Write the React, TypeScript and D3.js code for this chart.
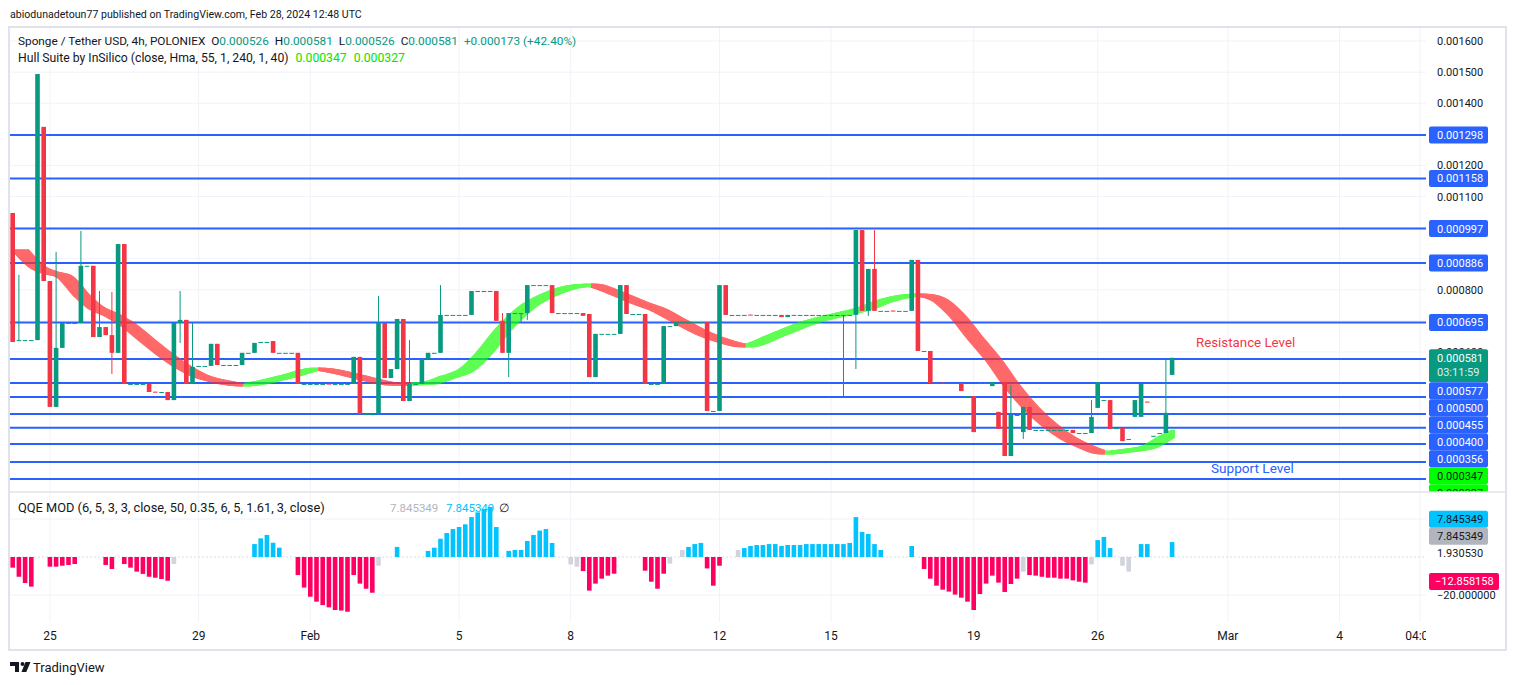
import React from 'react';
import * as d3 from 'd3';

const FONT = "Roboto, 'Noto Sans', sans-serif";

// 4h candles, prices in millionths of USDT (581 -> 0.000581): [open, high, low, close]
const ohlc: number[][] = [
  [1047,1047,632,632],[638,848,638,638],[638,638,638,638],[638,638,638,638],[638,1494,638,1494],
  [1324,1324,828,828],[828,828,423,423],[423,922,423,613],[613,693,613,693],[693,693,693,693],
  [693,693,693,693],[693,989,693,877],[877,877,877,877],[877,877,648,648],[648,796,648,680],
  [680,680,654,654],[654,793,529,597],[597,947,597,947],[947,947,497,497],[497,497,497,497],
  [497,497,497,497],[497,497,497,497],[497,497,471,471],[472,472,471,471],[471,471,471,471],
  [471,471,445,445],[445,693,445,693],[693,796,629,703],[703,703,497,497],[497,693,497,552],
  [555,555,555,555],[555,555,555,555],[555,626,555,626],[626,626,558,558],[558,558,558,558],
  [558,558,558,558],[558,558,558,558],[558,597,558,597],[597,597,597,597],[597,629,597,629],
  [629,632,629,632],[632,632,632,632],[635,635,597,597],[597,597,597,597],[597,597,597,597],
  [597,597,597,597],[597,597,497,497],[497,497,497,497],[497,497,497,497],[497,497,497,497],
  [497,497,497,497],[498,498,497,497],[497,497,497,497],[497,497,497,497],[497,497,497,497],
  [497,584,497,584],[584,584,400,400],[400,400,400,400],[400,400,400,400],[400,780,400,693],
  [693,693,516,516],[516,545,516,545],[545,706,545,706],[706,706,442,442],[442,638,442,497],
  [497,497,497,497],[497,577,497,577],[577,597,577,597],[597,597,597,597],[597,815,597,719],
  [719,719,719,719],[719,719,719,719],[719,719,719,719],[719,719,719,719],[719,796,719,796],
  [796,796,796,796],[796,796,796,796],[796,796,796,796],[796,796,700,700],[700,725,597,597],
  [597,725,519,725],[725,725,725,725],[725,725,696,725],[725,815,703,815],[815,815,815,815],
  [815,815,815,815],[815,815,815,815],[815,815,725,725],[725,725,725,725],[725,725,725,725],
  [725,725,725,725],[725,725,725,725],[725,725,716,716],[722,722,519,519],[519,658,519,658],
  [658,658,658,658],[658,658,658,658],[658,658,658,658],[658,815,658,815],[815,815,722,722],
  [722,722,722,722],[722,722,722,722],[722,722,497,497],[497,497,497,497],[497,497,497,497],
  [497,683,497,683],[683,683,683,683],[683,696,683,696],[696,696,696,696],[696,696,696,696],
  [696,696,696,696],[696,696,696,696],[696,696,410,410],[410,410,410,410],[410,815,410,815],
  [815,815,719,719],[719,719,719,719],[719,719,719,719],[719,719,719,719],[720,720,719,719],
  [719,719,719,719],[719,719,719,719],[719,719,719,719],[719,719,719,719],[719,719,712,712],
  [712,719,712,719],[719,719,719,719],[719,719,719,719],[719,719,719,719],[719,719,719,719],
  [719,719,719,719],[719,719,719,719],[719,719,719,719],[719,719,719,719],[719,719,455,719],
  [719,719,719,719],[719,992,545,992],[992,992,732,732],[732,867,716,867],[867,992,732,732],
  [732,732,732,732],[732,732,732,732],[733,733,732,732],[732,732,732,732],[732,732,732,732],
  [732,896,732,896],[896,896,603,603],[603,603,603,603],[603,603,500,500],[500,500,500,500],
  [501,501,500,500],[500,500,500,500],[500,500,500,500],[500,500,474,474],[458,458,458,458],
  [458,458,342,342],[500,500,500,500],[500,500,500,500],[490,503,490,503],[407,407,352,352],
  [503,503,265,265],[265,494,265,397],[397,397,397,397],[342,423,320,423],[423,423,349,349],
  [349,349,349,349],[349,349,349,349],[349,349,349,349],[349,349,349,349],[349,349,349,349],
  [349,349,349,349],[349,349,339,339],[339,339,339,339],[339,339,339,339],[339,445,339,391],
  [420,503,420,503],[445,445,445,445],[445,445,352,352],[355,355,355,355],[355,355,313,313],
  [320,320,320,320],[391,445,391,445],[391,497,391,497],[440,440,439,439],[330,330,330,330],
  [339,339,339,339],[339,574,339,404],[526,581,526,581],
];

// Hull Suite (HMA 55), read at selected bars, same units
const hullBars = [0,3,5,7,10,12,15,17,20,23,26,29,32,36,40,44,48,52,56,60,63,66,69,72,75,78,82,86,89,92,96,100,103,106,110,114,117,122,127,132,136,140,143,145,148,151,154,157,160,163,166,169,172,175,178,182,185,187];
const hullValues = [928,870,854,844,780,745,716,693,645,597,555,523,506,494,506,526,545,532,513,497,497,500,519,542,600,674,748,790,809,815,790,757,735,703,661,632,619,654,693,719,738,767,780,783,770,719,645,574,490,420,365,323,294,275,281,294,327,347];

// QQE MOD histogram, one value per candle (0 = no bar)
const qqeValues = [
  -5.6,-10.4,-13.7,-15.6,0,0,-5.1,-5.1,-4.6,-4.2,
  -3.7,0,0,0,0,-4.2,-6.3,0,-3.7,-5.6,
  -7.7,-8.9,-10.4,-10.9,-11.6,-12.5,-3.7,0,0,0,
  0,0,0,0,0,0,0,0,0,6.8,
  9.8,11.6,7.5,4.9,0,0,-9.5,-16.1,-20.9,-23.5,
  -25.3,-26.5,-27.9,-28.2,-28.8,-9.5,-14,-16.7,-18.8,-4.6,
  0,0,5.3,0,0,0,0,3.2,4.9,9.6,
  12.6,14.7,15.8,17.2,21,23.5,25.3,26.3,15.8,0,
  3.2,3.7,3.7,8.4,11.6,13.9,14.7,7.4,0,0,
  -3.9,-5.1,-7.4,-17.7,-14,-11.4,-9.8,-8.8,0,0,
  0,0,-7.2,-13,-16.7,-8.8,-3.5,0,3.7,5.3,
  6.8,7.4,-6,-15.1,-4.6,0,0,3.7,4.7,5.8,
  6.3,6.3,6.8,6.8,5.8,6.3,6.3,6.3,6.8,6.8,
  6.8,6.8,6.8,6.8,6.8,7.4,21,13.2,12.1,6.8,
  3.7,0,0,0,0,5.8,0,-6.3,-11.4,-15.1,
  -17.2,-18.2,-19.8,-21.4,-23.5,-27.9,-19.5,-14,-9.8,-13.5,
  -18.4,-14.2,-11.4,-7.7,-9.5,-9.8,-10.4,-10.9,-10.9,-11.4,
  -11.4,-12.3,-13,-13.5,-3.9,8.9,10.5,4.7,0,-4.6,
  -7.7,0,6.8,6.8,0,0,0,7.845349,
];
// bars drawn grey (neither threshold crossed)
const qqeNeutral = [26,59,90,91,106,108,117,163,174,179,180];

// drawn horizontal levels
const levelPrices = [1298,1158,997,886,695,577,500,455,400,356,304,246,191];
const priceTicks = [600,700,800,900,1000,1100,1200,1300,1400,1500,1600];

const dateLabels = ['25','29','Feb','5','8','12','15','19','26','Mar','4','04:00'];
const dateBars = [6,30,48,72,90,114,132,155,175,196,214,227];

const GREEN = '#089981';
const RED = '#f23645';
const BLUE = '#2962ff';
const GRID = '#f0f3fa';
const TEXT = '#131722';

const fmt = (v: number) => (v / 1e6).toFixed(6);

export default function App() {
  const left = 10, right = 1426;
  const priceTop = 28, priceBottom = 492, qqeBottom = 622;

  const x = d3.scaleLinear().domain([0, 228]).range([12.7, 12.7 + 6.2 * 228]);
  const y = d3.scaleLinear().domain([0, 1600]).range([538.4, 41.1]);
  const yq = d3.scaleLinear().domain([-20, 20]).range([595, 519]);
  const bw = 4.6;

  // Hull band: HMA and its lagged copy, filled between
  const shift = x(2.5) - x(0);
  const hullPath = d3.line<number>()
    .x((_, k) => x(hullBars[k]))
    .y(d => y(d))
    .curve(d3.curveMonotoneX)(hullValues) || '';
  const offsets = d3.range(0, shift + 0.01, 1);
  const zones: { x0: number; x1: number; up: boolean }[] = [];
  for (let k = 0; k < hullValues.length - 1; k++) {
    const up = hullValues[k + 1] > hullValues[k];
    const x0 = k === 0 ? x(0) - 4 : x(hullBars[k]) + shift / 2;
    const x1 = k === hullValues.length - 2 ? x(187) + 3 : x(hullBars[k + 1]) + shift / 2;
    const last = zones[zones.length - 1];
    if (last && last.up === up) last.x1 = x1;
    else zones.push({ x0, x1, up });
  }

  // right-hand price labels, pushed down so they do not overlap
  type Lab = { v: number; text: string[]; fill: string; color: string; h: number };
  const labs: Lab[] = [
    ...levelPrices.map(v => ({ v, text: [fmt(v)], fill: BLUE, color: '#fff', h: 17 })),
    { v: 581, text: ['0.000581', '03:11:59'], fill: GREEN, color: '#fff', h: 33 },
    { v: 347, text: ['0.000347'], fill: '#00ff00', color: TEXT, h: 17 },
    { v: 327, text: ['0.000327'], fill: '#00ff00', color: TEXT, h: 17 },
  ].sort((a, b) => y(a.v) - y(b.v) || b.h - a.h);
  let prevBottom = -Infinity;
  const placed = labs.map(l => {
    const top = Math.max(y(l.v) - 8.5, prevBottom);
    prevBottom = top + l.h;
    return { ...l, top };
  });

  // QQE labels
  const qCenter = yq(1.93053);
  const qGray = Math.min(yq(7.845349), qCenter - 17);
  const qCyan = Math.min(yq(7.845349), qGray - 17);

  return (
    <svg width={1515} height={685} style={{ position: 'absolute', left: 0, top: 0, background: '#fff' }}
      fontFamily={FONT}>
      <defs>
        <clipPath id="plot"><rect x={left} y={priceTop} width={right - left} height={priceBottom - priceTop} /></clipPath>
        <clipPath id="axis"><rect x={right} y={priceTop} width={90} height={priceBottom - priceTop} /></clipPath>
        <clipPath id="dates"><rect x={left} y={620} width={right - left} height={30} /></clipPath>
        <clipPath id="hull-up">
          {zones.filter(z => z.up).map((z, i) => <rect key={i} x={z.x0} y={priceTop} width={z.x1 - z.x0} height={priceBottom - priceTop} />)}
        </clipPath>
        <clipPath id="hull-dn">
          {zones.filter(z => !z.up).map((z, i) => <rect key={i} x={z.x0} y={priceTop} width={z.x1 - z.x0} height={priceBottom - priceTop} />)}
        </clipPath>
      </defs>

      <text x={10} y={18} fontSize={10.6} fill={TEXT}>abiodunadetoun77 published on TradingView.com, Feb 28, 2024 12:48 UTC</text>

      {/* grid */}
      {priceTicks.map(v => (
        <line key={v} x1={left} x2={right} y1={y(v)} y2={y(v)} stroke={GRID} />
      ))}
      {dateBars.map(b => (
        <line key={b} x1={x(b)} x2={x(b)} y1={priceTop} y2={qqeBottom} stroke={GRID} />
      ))}
      {[20, -20].map(v => <line key={v} x1={left} x2={right} y1={yq(v)} y2={yq(v)} stroke={GRID} />)}
      <line x1={left} x2={right} y1={yq(0)} y2={yq(0)} stroke="#d1d4dc" strokeDasharray="2,2" strokeWidth={0.8} />

      {/* levels */}
      <g clipPath="url(#plot)">
        {levelPrices.map(v => (
          <line key={v} x1={left} x2={right} y1={y(v)} y2={y(v)} stroke={BLUE} strokeWidth={2} />
        ))}
      </g>

      {/* hull band */}
      <g clipPath="url(#hull-dn)">
        <g opacity={0.72}>
          {offsets.map(o => <path key={o} d={hullPath} transform={`translate(${o},0)`} fill="none" stroke="#ff3030" strokeWidth={2.6} />)}
        </g>
      </g>
      <g clipPath="url(#hull-up)">
        <g opacity={0.68}>
          {offsets.map(o => <path key={o} d={hullPath} transform={`translate(${o},0)`} fill="none" stroke="#14ff00" strokeWidth={2.6} />)}
        </g>
      </g>

      {/* candles */}
      <g clipPath="url(#plot)">
        {ohlc.map(([o, h, l, c], i) => {
          const col = c >= o ? GREEN : RED;
          const top = y(Math.max(o, c));
          const ht = Math.max(1, Math.abs(y(o) - y(c)));
          return (
            <g key={i}>
              {h !== l && <line x1={x(i)} x2={x(i)} y1={y(h)} y2={y(l)} stroke={col} strokeWidth={1} />}
              <rect x={x(i) - bw / 2} y={top} width={bw} height={ht} fill={col} />
            </g>
          );
        })}
      </g>

      <text x={1196} y={347} fontSize={13.3} fill={RED}>Resistance Level</text>
      <text x={1211} y={473} fontSize={13.6} fill={BLUE}>Support Level</text>

      {/* legend */}
      <text x={18} y={45} fontSize={11.8} fill={TEXT}>
        Sponge / Tether USD, 4h, POLONIEX
        <tspan dx={6}>O</tspan><tspan fill={GREEN}>{fmt(ohlc[187][0])}</tspan>
        <tspan dx={6}>H</tspan><tspan fill={GREEN}>{fmt(ohlc[187][1])}</tspan>
        <tspan dx={6}>L</tspan><tspan fill={GREEN}>{fmt(ohlc[187][2])}</tspan>
        <tspan dx={6}>C</tspan><tspan fill={GREEN}>{fmt(ohlc[187][3])}</tspan>
        <tspan dx={6} fill={GREEN}>+0.000173 (+42.40%)</tspan>
      </text>
      <text x={18} y={62} fontSize={12.2} fill={TEXT}>
        Hull Suite by InSilico (close, Hma, 55, 1, 240, 1, 40)
        <tspan dx={7} fill="#00e600">0.000347</tspan>
        <tspan dx={7} fill="#00e600">0.000327</tspan>
      </text>

      {/* price axis */}
      {priceTicks.map(v => (
        <text key={v} x={1437} y={y(v) + 4} fontSize={11} fill={TEXT}>{fmt(v)}</text>
      ))}
      <g clipPath="url(#axis)">
        {placed.map((l, i) => (
          <g key={i}>
            <rect x={1429} y={l.top} width={59} height={l.h} rx={2} fill={l.fill} />
            {l.text.map((t, j) => (
              <text key={j} x={1437} y={l.top + 12.5 + j * 14} fontSize={11} fill={l.color} opacity={j ? 0.85 : 1}>{t}</text>
            ))}
          </g>
        ))}
      </g>
      <line x1={left} x2={1506} y1={priceBottom} y2={priceBottom} stroke="#e0e3eb" strokeWidth={1.5} />

      {/* QQE pane */}
      {qqeValues.map((v, i) => {
        if (v === 0) return null;
        const col = qqeNeutral.includes(i) ? '#d1d4dc' : v > 0 ? '#00c3ff' : '#ff0062';
        return <rect key={i} x={x(i) - bw / 2} y={Math.min(yq(0), yq(v))} width={bw} height={Math.abs(yq(v) - yq(0))} fill={col} />;
      })}
      <text x={18} y={512} fontSize={12.8} fill={TEXT}>QQE MOD (6, 5, 3, 3, close, 50, 0.35, 6, 5, 1.61, 3, close)</text>
      <text x={390} y={512} fontSize={11.5} fill="#b2b5be">7.845349</text>
      <text x={446} y={512} fontSize={11.5} fill="#00c3ff">7.845349</text>
      <text x={499} y={512} fontSize={11.5} fill={TEXT}>∅</text>

      <text x={1437} y={yq(-20) + 4} fontSize={11} fill={TEXT}>−20.000000</text>
      <text x={1437} y={qCenter + 4} fontSize={11} fill={TEXT}>1.930530</text>
      <rect x={1429} y={qCyan - 8.5} width={59} height={17} rx={2} fill="#00c3ff" />
      <text x={1437} y={qCyan + 4} fontSize={11} fill={TEXT}>7.845349</text>
      <rect x={1429} y={qGray - 8.5} width={59} height={17} rx={2} fill="#b2b5be" />
      <text x={1437} y={qGray + 4} fontSize={11} fill={TEXT}>7.845349</text>
      <rect x={1429} y={yq(-12.858158) - 8.5} width={70} height={17} rx={2} fill="#ff0062" />
      <text x={1435} y={yq(-12.858158) + 4} fontSize={11} fill="#fff">−12.858158</text>

      {/* time axis */}
      <g clipPath="url(#dates)">
        {dateLabels.map((d, i) => (
          <text key={d} x={x(dateBars[i])} y={640} fontSize={12} fill={TEXT} textAnchor="middle">{d}</text>
        ))}
      </g>

      {/* frame */}
      <rect x={9} y={27} width={1497} height={623} fill="none" stroke="#e0e3eb" strokeWidth={2} />

      {/* footer */}
      <g fill={TEXT}>
        <path d="M10 662 h9 v10 h-4 v-6 h-5 z" />
        <circle cx={22.5} cy={664} r={2} />
        <path d="M25.5 662 h5 l-4.2 10 h-4.8 z" />
      </g>
      <text x={33} y={672} fontSize={13} fill={TEXT}>TradingView</text>
    </svg>
  );
}
